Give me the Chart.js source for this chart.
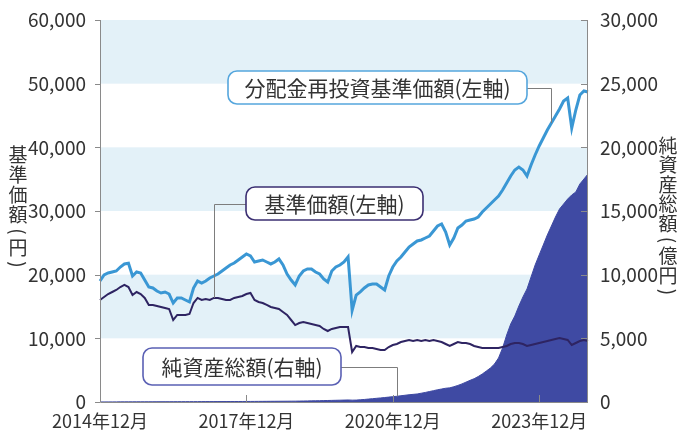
<!DOCTYPE html>
<html>
<head>
<meta charset="utf-8">
<script src="https://cdn.jsdelivr.net/npm/chart.js"></script>
<style>
  html, body { margin: 0; padding: 0; background: #fff; }
  #wrap { width: 677px; height: 431px; }
</style>
</head>
<body>
<div id="wrap"><canvas id="fundChart" width="677" height="431"></canvas></div>
<script>
// month categories, Dec 2014 .. Dec 2024
var months = [];
for (var yr = 2014, mo = 12; months.length < 121; ) {
    months.push(yr + '年' + mo + '月');
    mo++;
    if (mo > 12) { mo = 1; yr++; }
}
var tickLabels = ['2014年12月', '2017年12月', '2020年12月', '2023年12月'];

// 分配金再投資基準価額 (円, left axis)
var reinvestNav = [
    19000, 19950, 20260, 20420, 20580, 21200, 21680, 21800, 19790, 20420,
    20260, 19160, 18060, 17910, 17430, 17120, 17280, 16960, 15550, 16340,
    16340, 16020, 15710, 17910, 19000, 18690, 19000, 19480, 19790, 20100,
    20580, 21050, 21520, 21830, 22300, 22780, 23250, 22930, 21990, 22150,
    22300, 21990, 21680, 21990, 22460, 21520, 20100, 19160, 18380, 19790,
    20580, 20890, 20890, 20420, 20100, 19320, 18850, 20580, 21200, 21520,
    21990, 22780, 14400, 16800, 17300, 17910, 18380, 18530, 18530, 18060,
    17590, 19790, 21200, 22150, 22780, 23560, 24350, 24820, 25290, 25450,
    25760, 26070, 26860, 27640, 27960, 26700, 24660, 25760, 27330, 27800,
    28430, 28590, 28740, 29060, 29840, 30470, 31100, 31730, 32360, 33300,
    34400, 35500, 36440, 36910, 36440, 35500, 37230, 38800, 40210, 41470,
    42720, 43820, 44920, 46020, 47280, 47750, 43040, 45860, 48220, 48850,
    48690
];

// 基準価額 (円, left axis)
var nav = [
    16020, 16490, 16960, 17280, 17590, 18060, 18380, 18060, 16810, 17280,
    16960, 16340, 15240, 15240, 15080, 14920, 14760, 14610, 12880, 13670,
    13670, 13670, 13820, 15550, 16340, 16020, 16180, 16020, 16340, 16340,
    16180, 16020, 16020, 16340, 16490, 16650, 16960, 17120, 16020, 15710,
    15550, 15240, 14920, 14760, 14610, 14140, 13670, 12880, 12090, 12410,
    12570, 12410, 12250, 12090, 11940, 11470, 11150, 11470, 11620, 11780,
    11780, 11780, 7850, 8800, 8640, 8640, 8480, 8480, 8320, 8170,
    8170, 8640, 8950, 9110, 9420, 9580, 9740, 9580, 9740, 9580,
    9740, 9580, 9740, 9580, 9420, 9110, 8800, 9110, 9420, 9270,
    9270, 9110, 8800, 8640, 8480, 8480, 8480, 8480, 8480, 8640,
    8800, 9110, 9270, 9270, 9110, 8800, 8950, 9110, 9270, 9420,
    9580, 9740, 9900, 10050, 9900, 9740, 8950, 9270, 9580, 9740,
    9580
];

// 純資産総額 (億円, right axis)
var netAssets = [
    5, 6, 7, 8, 9, 10, 11, 12, 13, 14, 15, 16,
    17, 18, 19, 20, 21, 22, 23, 24, 25, 26, 27, 28,
    29, 30, 31, 32, 33, 34, 35, 36, 37, 38, 39, 40,
    42, 44, 46, 48, 50, 52, 54, 56, 58, 60, 62, 64,
    66, 72, 78, 84, 90, 96, 102, 110, 118, 126, 134, 142,
    150, 160, 145, 150, 175, 200, 230, 260, 290, 320, 350, 385,
    420, 450, 490, 530, 570, 600, 630, 690, 750, 820, 890, 960,
    1020, 1080, 1110, 1200, 1300, 1420, 1560, 1700, 1830, 2000, 2200, 2430,
    2670, 2980, 3460, 4240, 5260, 6130, 6750, 7540, 8250, 8880, 9820, 10760,
    11550, 12330, 13120, 13820, 14530, 15160, 15550, 15940, 16260, 16490, 17120, 17510,
    17910
];

var FONT = "'Noto Sans CJK JP', 'Noto Sans', sans-serif";
var TEXT = '#333333';
var AXIS = '#8a8a8a';

// callout boxes: [x, y, w, h], anchored to a data point
var callouts = [
    { text: '分配金再投資基準価額(左軸)', box: [228, 71, 299, 33], color: '#55a6dd', ds: 0, index: 111, side: 'right' },
    { text: '基準価額(左軸)', box: [246, 187, 177, 33], color: '#3b2f72', ds: 1, index: 28, side: 'left' },
    { text: '純資産総額(右軸)', box: [143, 348, 198, 37], color: '#5a60b4', ds: 2, index: 73, side: 'right' }
];

function roundRect(ctx, x, y, w, h, r) {
    ctx.beginPath();
    ctx.moveTo(x + r, y);
    ctx.lineTo(x + w - r, y);
    ctx.arcTo(x + w, y, x + w, y + r, r);
    ctx.lineTo(x + w, y + h - r);
    ctx.arcTo(x + w, y + h, x + w - r, y + h, r);
    ctx.lineTo(x + r, y + h);
    ctx.arcTo(x, y + h, x, y + h - r, r);
    ctx.lineTo(x, y + r);
    ctx.arcTo(x, y, x + r, y, r);
    ctx.closePath();
}

function drawVertical(ctx, text, cx, startY, step, parenStep) {
    var y = startY;
    for (var i = 0; i < text.length; i++) {
        var ch = text[i];
        var paren = (ch === '(' || ch === ')');
        var adv = paren ? parenStep : step;
        ctx.save();
        ctx.translate(cx, y + adv / 2);
        if (paren) ctx.rotate(Math.PI / 2);
        ctx.fillText(ch, 0, 0);
        ctx.restore();
        y += adv;
    }
}

var decor = {
    id: 'decor',
    beforeDatasetsDraw: function(chart) {
        var ctx = chart.ctx, a = chart.chartArea, ys = chart.scales.y;
        var t = ys.ticks;
        ctx.save();
        ctx.fillStyle = '#e3f1f8';
        for (var i = 1; i < t.length - 1; i += 2) {
            var y1 = ys.getPixelForValue(t[i + 1].value);
            var y0 = ys.getPixelForValue(t[i].value);
            ctx.fillRect(a.left, y1, a.right - a.left, y0 - y1);
        }
        ctx.restore();
    },
    afterDatasetsDraw: function(chart) {
        var ctx = chart.ctx, a = chart.chartArea;
        var xs = chart.scales.x, ys = chart.scales.y, ys2 = chart.scales.y2;
        ctx.save();

        // frame
        ctx.strokeStyle = AXIS;
        ctx.lineWidth = 1;
        ctx.beginPath();
        ctx.moveTo(Math.round(a.left) + 0.5, a.top);
        ctx.lineTo(Math.round(a.left) + 0.5, Math.round(a.bottom) + 0.5);
        ctx.lineTo(Math.round(a.right) - 0.5, Math.round(a.bottom) + 0.5);
        ctx.lineTo(Math.round(a.right) - 0.5, a.top);
        ctx.stroke();

        // left ticks (outward)
        ys.ticks.forEach(function(t) {
            var y = Math.round(ys.getPixelForValue(t.value)) + 0.5;
            ctx.beginPath(); ctx.moveTo(a.left - 5, y); ctx.lineTo(a.left, y); ctx.stroke();
        });
        // right ticks (inward)
        ys2.ticks.forEach(function(t) {
            var y = Math.round(ys2.getPixelForValue(t.value)) + 0.5;
            ctx.beginPath(); ctx.moveTo(a.right - 7, y); ctx.lineTo(a.right, y); ctx.stroke();
        });
        // bottom ticks (inward)
        tickLabels.forEach(function(l) {
            var x = Math.round(xs.getPixelForValue(months.indexOf(l))) + 0.5;
            ctx.beginPath(); ctx.moveTo(x, a.bottom); ctx.lineTo(x, a.bottom - 7); ctx.stroke();
        });

        // callouts
        callouts.forEach(function(c) {
            var meta = chart.getDatasetMeta(c.ds);
            var pt = meta.data[c.index];
            var bx = c.box[0], by = c.box[1], bw = c.box[2], bh = c.box[3];
            var sx = c.side === 'right' ? bx + bw : bx;
            var sy = Math.round(by + bh / 2) + 0.5;
            var px = Math.round(pt.x) + 0.5;
            ctx.strokeStyle = '#7d7d7d';
            ctx.lineWidth = 1;
            ctx.beginPath();
            ctx.moveTo(sx, sy);
            ctx.lineTo(px, sy);
            ctx.lineTo(px, pt.y);
            ctx.stroke();

            roundRect(ctx, bx, by, bw, bh, 9);
            ctx.fillStyle = '#ffffff';
            ctx.fill();
            ctx.strokeStyle = c.color;
            ctx.lineWidth = 1.6;
            ctx.stroke();

            ctx.fillStyle = TEXT;
            ctx.font = '21px ' + FONT;
            ctx.textAlign = 'center';
            ctx.textBaseline = 'middle';
            ctx.fillText(c.text, bx + bw / 2, by + bh / 2 + 1);
        });

        // vertical axis titles
        ctx.fillStyle = TEXT;
        ctx.font = '19px ' + FONT;
        ctx.textAlign = 'center';
        ctx.textBaseline = 'middle';
        drawVertical(ctx, '基準価額(円)', 18, 145, 20, 13);
        drawVertical(ctx, '純資産総額(億円)', 668, 136, 19.5, 13);

        ctx.restore();
    }
};

function fmt(v) { return Number(v).toLocaleString('en-US'); }

new Chart(document.getElementById('fundChart').getContext('2d'), {
    type: 'line',
    data: {
        labels: months,
        datasets: [
            {
                label: '分配金再投資基準価額',
                data: reinvestNav,
                yAxisID: 'y',
                borderColor: '#3a97d4',
                borderWidth: 3,
                pointRadius: 0,
                tension: 0,
                fill: false,
                order: 0
            },
            {
                label: '基準価額',
                data: nav,
                yAxisID: 'y',
                borderColor: '#2e2462',
                borderWidth: 2,
                pointRadius: 0,
                tension: 0,
                fill: false,
                order: 1
            },
            {
                label: '純資産総額',
                data: netAssets,
                yAxisID: 'y2',
                borderColor: '#3f4aa3',
                backgroundColor: '#3f4aa3',
                borderWidth: 1,
                pointRadius: 0,
                tension: 0,
                fill: 'origin',
                order: 2
            }
        ]
    },
    options: {
        responsive: false,
        animation: false,
        devicePixelRatio: 1,
        layout: { padding: { top: 20, left: 0, right: 0, bottom: 0 } },
        plugins: { legend: { display: false }, tooltip: { enabled: false } },
        scales: {
            x: {
                type: 'category',
                grid: { display: false },
                border: { display: false },
                ticks: {
                    autoSkip: false,
                    maxRotation: 0,
                    padding: 2,
                    color: TEXT,
                    font: { family: FONT, size: 18, lineHeight: 1.0 },
                    callback: function(v) {
                        var l = this.getLabelForValue(v);
                        return tickLabels.indexOf(l) >= 0 ? l : '';
                    }
                },
                afterFit: function(s) { s.height = 29; }
            },
            y: {
                position: 'left',
                min: 0, max: 60000,
                grid: { display: false },
                border: { display: false },
                ticks: { stepSize: 10000, padding: 6, color: TEXT, font: { family: FONT, size: 19 }, callback: fmt },
                afterFit: function(s) { s.width = 100; }
            },
            y2: {
                position: 'right',
                min: 0, max: 30000,
                grid: { display: false },
                border: { display: false },
                ticks: { stepSize: 5000, padding: 4, color: TEXT, font: { family: FONT, size: 19 }, callback: fmt },
                afterFit: function(s) { s.width = 89; }
            }
        }
    },
    plugins: [decor]
});
</script>
</body>
</html>
